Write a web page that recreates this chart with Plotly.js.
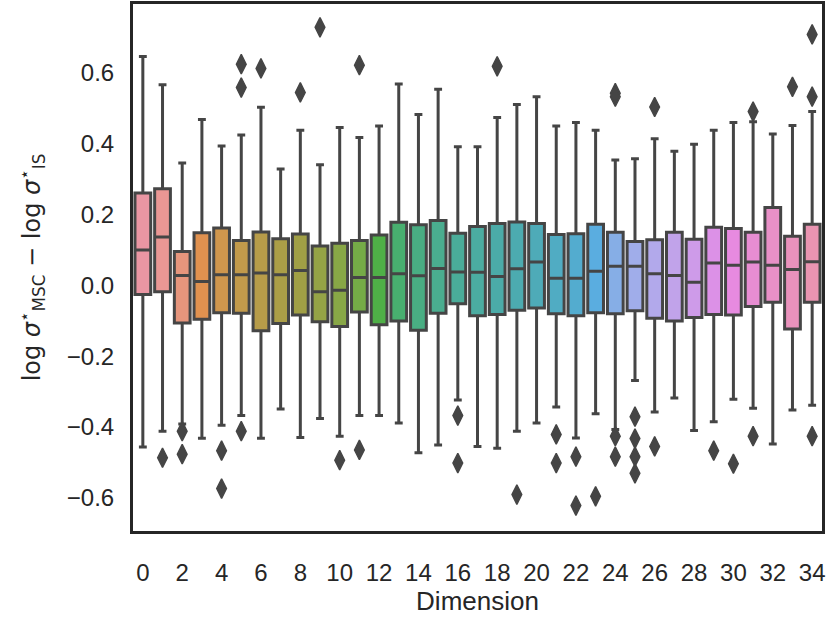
<!DOCTYPE html>
<html>
<head>
<meta charset="utf-8">
<script src="https://cdn.plot.ly/plotly-3.0.1.min.js"></script>
<style>html,body{margin:0;padding:0;background:#fff;}#chart{width:830px;height:623px;}</style>
</head>
<body>
<div id="chart"></div>
<script>
// ---- data ----
const dims = [0,1,2,3,4,5,6,7,8,9,10,11,12,13,14,15,16,17,18,19,20,21,22,23,24,25,26,27,28,29,30,31,32,33,34];
const lowerWhisker = [-0.457,-0.412,-0.392,-0.432,-0.395,-0.368,-0.432,-0.349,-0.430,-0.376,-0.426,-0.368,-0.368,-0.389,-0.473,-0.451,-0.324,-0.455,-0.460,-0.412,-0.389,-0.344,-0.431,-0.363,-0.407,-0.269,-0.358,-0.318,-0.410,-0.385,-0.322,-0.347,-0.448,-0.352,-0.339];
const q1Values = [-0.026,-0.018,-0.106,-0.096,-0.077,-0.079,-0.128,-0.108,-0.084,-0.103,-0.116,-0.075,-0.111,-0.101,-0.127,-0.079,-0.052,-0.086,-0.082,-0.070,-0.064,-0.080,-0.086,-0.077,-0.080,-0.072,-0.093,-0.101,-0.091,-0.082,-0.084,-0.060,-0.048,-0.123,-0.048];
const medianValues = [0.100,0.137,0.028,0.011,0.030,0.030,0.035,0.030,0.042,-0.018,-0.014,0.022,0.022,0.033,0.027,0.048,0.038,0.037,0.025,0.047,0.066,0.020,0.020,0.040,0.054,0.054,0.033,0.028,0.009,0.063,0.057,0.066,0.057,0.045,0.067];
const q3Values = [0.261,0.273,0.096,0.149,0.162,0.127,0.151,0.132,0.145,0.111,0.119,0.127,0.142,0.178,0.171,0.183,0.147,0.166,0.175,0.179,0.175,0.144,0.146,0.173,0.150,0.124,0.129,0.150,0.130,0.164,0.161,0.150,0.220,0.139,0.173];
const upperWhisker = [0.647,0.567,0.346,0.469,0.394,0.425,0.503,0.329,0.438,0.341,0.446,0.418,0.450,0.569,0.483,0.554,0.392,0.392,0.474,0.511,0.533,0.450,0.460,0.438,0.354,0.358,0.414,0.379,0.399,0.438,0.460,0.462,0.428,0.452,0.491];
const outlierDim = [1,2,2,4,4,5,5,5,6,8,9,10,11,11,16,16,18,19,21,21,22,22,23,24,24,24,24,25,25,25,25,26,26,29,30,31,31,33,34,34,34];
const outlierValue = [-0.487,-0.412,-0.477,-0.467,-0.574,0.625,0.559,-0.412,0.613,0.545,0.729,-0.494,0.622,-0.465,-0.368,-0.502,0.619,-0.591,-0.421,-0.502,-0.484,-0.622,-0.596,0.543,0.533,-0.426,-0.484,-0.371,-0.433,-0.484,-0.531,0.504,-0.455,-0.467,-0.504,0.491,-0.426,0.561,0.709,0.533,-0.426];
const xTickVals = [0,2,4,6,8,10,12,14,16,18,20,22,24,26,28,30,32,34];
const xTickText = ["0","2","4","6","8","10","12","14","16","18","20","22","24","26","28","30","32","34"];
const yTickVals = [-0.6,-0.4,-0.2,0.0,0.2,0.4,0.6];
const yTickText = ["\u22120.6","\u22120.4","\u22120.2","0.0","0.2","0.4","0.6"];

// ---- seaborn-like husl palette (l=.7, s=.9) desaturated to .75 ----
function huslToRgb(h, s, l) {
  const m = [[3.2406,-1.5372,-0.4986],[-0.9689,1.8758,0.0415],[0.0557,-0.2040,1.0570]];
  const refU = 0.19784, refV = 0.46834, kappa = 903.3, eps = 0.008856;
  function maxChroma(L, H) {
    const hrad = H * Math.PI / 180, sinH = Math.sin(hrad), cosH = Math.cos(hrad);
    const sub1 = Math.pow(L + 16, 3) / 1560896;
    const sub2 = sub1 > eps ? sub1 : L / kappa;
    let result = Infinity;
    for (const row of m) {
      const [m1, m2, m3] = row;
      const top = (0.99915 * m1 + 1.05122 * m2 + 1.14460 * m3) * sub2;
      const rbottom = 0.86330 * m3 - 0.17266 * m2;
      const lbottom = 0.12949 * m3 - 0.38848 * m1;
      const bottom = (rbottom * sinH + lbottom * cosH) * sub2;
      for (const t of [0, 1]) {
        const C = L * (top - 1.05122 * t) / (bottom + 0.17266 * sinH * t);
        if (C > 0 && C < result) result = C;
      }
    }
    return result;
  }
  const C = maxChroma(l, h) / 100 * s;
  const hr = h * Math.PI / 180;
  const U = Math.cos(hr) * C, V = Math.sin(hr) * C;
  const t = (l + 16) / 116;
  const Y = Math.pow(t, 3) > eps ? Math.pow(t, 3) : (116 * t - 16) / kappa;
  const varU = U / (13 * l) + refU, varV = V / (13 * l) + refV;
  const X = -(9 * Y * varU) / ((varU - 4) * varV - varU * varV);
  const Z = (9 * Y - 15 * varV * Y - varV * X) / (3 * varV);
  return m.map(r => {
    const c = r[0] * X + r[1] * Y + r[2] * Z;
    const v = c <= 0.0031308 ? 12.92 * c : 1.055 * Math.pow(c, 1 / 2.4) - 0.055;
    return Math.min(1, Math.max(0, v));
  });
}
function rgbToHls(r, g, b) {
  const maxc = Math.max(r, g, b), minc = Math.min(r, g, b);
  const l = (minc + maxc) / 2;
  if (minc === maxc) return [0, l, 0];
  const s = l <= 0.5 ? (maxc - minc) / (maxc + minc) : (maxc - minc) / (2 - maxc - minc);
  const rc = (maxc - r) / (maxc - minc), gc = (maxc - g) / (maxc - minc), bc = (maxc - b) / (maxc - minc);
  let h;
  if (r === maxc) h = bc - gc; else if (g === maxc) h = 2 + rc - bc; else h = 4 + gc - rc;
  h = ((h / 6) % 1 + 1) % 1;
  return [h, l, s];
}
function hlsToRgb(h, l, s) {
  if (s === 0) return [l, l, l];
  const m2 = l <= 0.5 ? l * (1 + s) : l + s - l * s;
  const m1 = 2 * l - m2;
  function v(hh) {
    hh = ((hh % 1) + 1) % 1;
    if (hh < 1 / 6) return m1 + (m2 - m1) * hh * 6;
    if (hh < 0.5) return m2;
    if (hh < 2 / 3) return m1 + (m2 - m1) * (2 / 3 - hh) * 6;
    return m1;
  }
  return [v(h + 1 / 3), v(h), v(h - 1 / 3)];
}
const n = dims.length;
let minLight = 1;
const colors = dims.map((d, i) => {
  let hue = (i / n + 0.01) % 1 * 359;
  const rgb = huslToRgb(hue, 0.9 * 99, 0.7 * 99);
  const hls = rgbToHls(rgb[0], rgb[1], rgb[2]);
  const out = hlsToRgb(hls[0], hls[1], hls[2] * 0.75);
  minLight = Math.min(minLight, rgbToHls(out[0], out[1], out[2])[1]);
  return 'rgb(' + out.map(c => Math.round(c * 255)).join(',') + ')';
});
const g = Math.round(minLight * 0.6 * 255);
const gray = 'rgb(' + g + ',' + g + ',' + g + ')';

const traces = dims.map((d, i) => ({
  type: 'box',
  x: [d],
  q1: [q1Values[i]],
  median: [medianValues[i]],
  q3: [q3Values[i]],
  lowerfence: [lowerWhisker[i]],
  upperfence: [upperWhisker[i]],
  width: 0.8,
  whiskerwidth: 0.5,
  fillcolor: colors[i],
  line: {color: gray, width: 3},
  boxpoints: false,
  hoverinfo: 'skip',
  showlegend: false
}));
traces.push({
  type: 'scatter',
  mode: 'markers',
  x: outlierDim,
  y: outlierValue,
  marker: {symbol: 'diamond-tall', size: 14, color: gray, line: {color: gray, width: 1.4}},
  hoverinfo: 'skip',
  showlegend: false
});

const layout = {
  width: 830, height: 623,
  margin: {l: 133, r: 8, t: 4, b: 92},
  paper_bgcolor: '#fff', plot_bgcolor: '#fff',
  boxmode: 'overlay',
  showlegend: false,
  font: {family: 'Liberation Sans, Arial, sans-serif', color: '#262626', size: 24},
  xaxis: {
    range: [-0.5, 34.5],
    tickvals: xTickVals, ticktext: xTickText,
    showgrid: false, zeroline: false,
    showline: true, mirror: true, linecolor: '#262626', linewidth: 3,
    ticks: 'outside', ticklen: 18, tickcolor: 'rgba(0,0,0,0)',
    tickfont: {size: 24, color: '#262626'},
    title: {text: 'Dimension', font: {size: 26, color: '#262626'}, standoff: 2}
  },
  yaxis: {
    range: [-0.694, 0.795],
    tickvals: yTickVals, ticktext: yTickText,
    showgrid: false, zeroline: false,
    showline: true, mirror: true, linecolor: '#262626', linewidth: 3,
    ticks: 'outside', ticklen: 11, tickcolor: 'rgba(0,0,0,0)',
    tickfont: {size: 24, color: '#262626'},
    title: {text: 'log <i>σ</i><sup>⋆</sup><sub>MSC</sub> − log <i>σ</i><sup>⋆</sup><sub>IS</sub>',
            font: {family: 'DejaVu Sans, sans-serif', size: 24, color: '#262626'}, standoff: 20}
  }
};
Plotly.newPlot('chart', traces, layout, {staticPlot: true, displayModeBar: false});
</script>
</body>
</html>
